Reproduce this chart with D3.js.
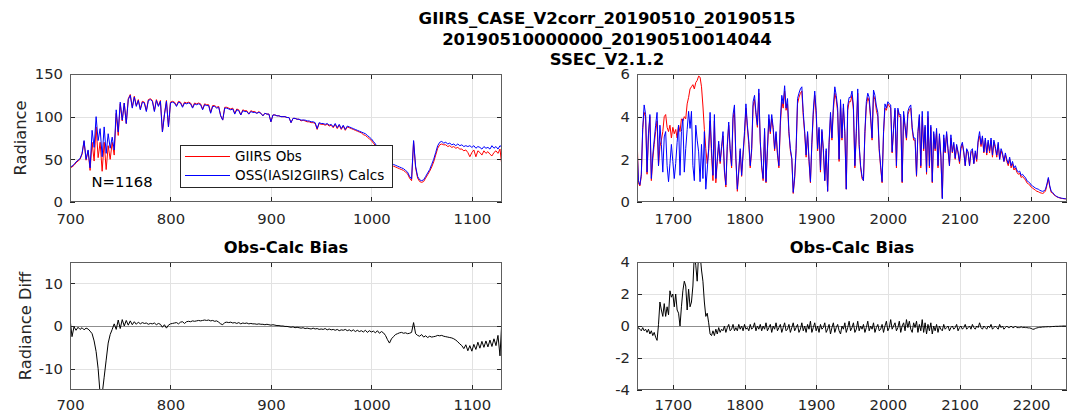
<!DOCTYPE html>
<html><head><meta charset="utf-8">
<script src="https://cdn.jsdelivr.net/npm/d3@7"></script>
<style>body{margin:0;background:#fff}svg{display:block}text{font-family:"DejaVu Sans",sans-serif}</style>
</head><body><svg id="c" width="1070" height="413"></svg>
<script>
// ---------- DATA ----------
const titleLines = ["GIIRS_CASE_V2corr_20190510_20190515", "20190510000000_20190510014044", "SSEC_V2.1.2"];
const legendLabels = ["GIIRS Obs", "OSS(IASI2GIIRS) Calcs"];
const nLabel = "N=1168";
const biasTitle = "Obs-Calc Bias";

// long-wave band: wavenumber grid start/step (cm-1)
const lwStart = 700, lwStep = 2;
const lwCalc = [
41,42,44,47,49,51,57,72,50,61,
40,84,64,100,72,86,53,88,57,80,
63,76,61,108,82,117,96,116,92,120,
125,110,123,112,119,108,117,116,106,119,
120,118,106,119,112,118,82,102,118,88,
116,117,116,112,117,116,111,116,115,116,
115,110,115,114,115,114,108,114,113,113,
104,112,112,110,111,101,96,110,110,109,
108,109,103,108,107,102,107,106,106,103,
106,105,105,104,105,104,101,104,103,103,
94,102,102,101,101,100,100,100,99,99,
93,98,98,97,97,96,96,96,95,95,
94,94,93,86,93,92,92,91,92,90,
91,88,92,87,91,86,90,85,89,88,
87,86,85,84,83,82,81,80,78,76,
74,71,68,64,60,56,52,49,47,46,
45,44,43,42,41,40,39,37,35,30,
27,72,42,30,26,25,26,30,34,38,
44,50,58,66,70,71,69,70,68,69,
67,68,66,68,66,67,65,66,65,66,
64,66,63,65,64,62,65,63,64,62,
66,63,65,62,66,64];
const lwObs = [
40,41,43,46,48,50,56,71,49,60,
37,70,48,88,52,70,36,70,38,66,
50,70,55,104,78,115,95,116,92,121,
126,111,124,113,120,109,118,117,107,120,
121,119,107,120,113,119,82,103,119,88,
117,118,117,113,118,117,112,117,116,117,
116,111,116,115,116,115,109,115,114,114,
105,113,113,111,112,101,96,111,111,110,
109,110,104,109,108,102,108,107,107,103,
107,106,106,104,106,104,101,104,103,103,
94,102,102,101,101,100,100,100,99,99,
93,98,98,97,97,95,96,95,94,94,
93,93,92,85,92,91,91,90,91,89,
90,87,91,86,90,85,89,84,88,87,
86,85,84,83,82,81,79,78,76,74,
72,69,66,62,58,54,50,47,44,42,
42,42,41,40,39,38,37,35,33,28,
25,71,40,28,24,23,24,28,32,36,
41,47,55,63,67,68,67,67,65,66,
64,65,63,64,62,62,60,61,58,53,
58,61,53,60,58,55,60,57,59,56,
54,58,60,57,62,41];
const lwBias = [
1.8,-2.5,-0.2,-1.0,-0.3,-0.8,-0.4,-0.9,-0.5,-0.7,
-1.2,-1.8,-3.5,-6,-10,-16,-16,-12,-8,-4,
-2,-0.8,0.5,-0.8,1.4,-0.6,1.5,0.0,1.3,0.2,
1.2,0.3,1.0,0.4,0.9,0.5,0.8,0.6,0.7,0.4,
0.6,0.5,0.7,0.3,0.6,0.4,-0.3,0.3,-0.5,0.2,
0.5,0.6,0.7,0.8,0.5,0.9,1.0,0.6,1.0,1.1,
1.0,1.2,1.1,1.2,1.3,1.2,1.3,1.4,1.3,1.4,
1.2,1.3,1.1,1.2,0.9,0.5,0.3,0.8,0.9,0.8,
0.9,0.7,0.8,0.6,0.8,0.5,0.7,0.6,0.7,0.5,
0.6,0.5,0.5,0.4,0.5,0.4,0.4,0.3,0.4,0.3,
0.2,0.3,0.2,0.1,0.1,0.0,0.0,-0.1,-0.1,-0.2,
-0.3,-0.2,-0.4,-0.3,-0.4,-0.5,-0.4,-0.6,-0.5,-0.6,
-0.7,-0.5,-0.7,-0.6,-0.8,-0.7,-0.8,-0.6,-0.9,-0.7,
-0.9,-0.8,-1.0,-0.8,-1.1,-0.9,-1.0,-0.8,-1.1,-0.9,
-1.2,-0.9,-1.3,-1.0,-1.3,-1.1,-1.4,-1.0,-1.5,-1.1,
-1.4,-1.2,-1.6,-1.1,-1.7,-1.3,-1.6,-2.2,-3.2,-4.0,
-3.0,-2.5,-2.0,-1.8,-1.6,-1.5,-1.7,-1.6,-1.8,-1.7,
-1.5,0.8,-1.8,-2.2,-2.4,-2.0,-2.6,-2.3,-2.7,-2.4,
-2.6,-2.5,-2.4,-2.2,-2.3,-2.2,-2.4,-2.5,-2.6,-2.7,
-2.8,-3.0,-3.3,-3.7,-4.2,-4.6,-5.3,-4.4,-5.8,-4.6,
-5.9,-4.3,-5.5,-3.8,-5.2,-3.6,-5.0,-3.5,-4.9,-3.3,
-4.8,-3.0,-4.6,-2.2,-7.0,2.0];

// mid-wave band
const mwStart = 1650, mwStep = 2;
const mwCalc = [
2.7,1.0,0.8,1.3,3.5,4.55,4.1,1.4,3.2,4.1,
1.1,2.2,2.9,3.6,4.2,1.7,3.6,2.7,1.4,3.05,
3.3,1.7,0.95,1.8,2.7,1.9,1.1,1.8,2.8,3.6,
1.25,3.3,3.9,1.4,2.5,3.4,4.25,3.45,4.25,1.7,
1.0,3.6,2.9,2.35,0.95,2.7,1.1,3.3,0.6,1.5,
2.5,4.2,2.5,1.25,4.1,1.1,2.0,2.85,1.9,2.6,
3.3,1.5,0.8,2.7,3.75,2.5,1.7,4.1,4.55,2.05,
0.6,1.5,2.5,1.25,2.3,3.3,4.6,3.6,2.85,1.7,
2.5,4.7,5.0,4.2,3.6,5.3,2.85,1.7,1.1,3.45,
0.95,2.5,4.1,3.3,4.1,3.5,2.5,3.3,2.3,1.7,
3.8,5.0,4.6,5.45,4.4,4.85,3.3,2.5,2.05,0.45,
1.2,2.5,4.85,5.1,5.3,5.4,4.2,3.3,2.2,3.3,
2.0,0.95,2.8,4.3,5.2,4.3,2.5,3.5,1.5,3.4,
2.5,1.0,2.5,0.5,2.8,4.2,3.0,4.5,5.4,5.0,
4.4,2.0,4.8,3.0,4.6,3.3,0.6,4.5,4.9,4.9,
5.2,4.5,1.7,3.3,5.3,2.7,1.7,1.2,1.0,3.3,
4.7,5.1,4.9,4.0,3.0,5.25,5.0,4.5,4.2,2.5,
1.7,0.95,3.3,4.6,4.4,4.7,4.6,4.55,2.35,3.45,
4.4,1.7,4.4,4.1,4.1,0.95,4.25,3.6,3.0,4.25,
4.45,4.55,3.5,3.0,3.0,1.25,3.3,4.1,1.7,4.25,
2.5,3.6,1.4,4.25,1.7,3.6,0.95,3.3,2.5,3.45,
1.7,3.2,2.2,0.15,3.15,2.35,3.3,2.5,1.7,3.15,
2.35,2.8,2.05,2.7,2.35,1.9,2.6,2.8,2.35,1.7,
2.5,2.35,1.7,2.4,2.5,1.8,2.4,2.0,2.9,3.3,
2.7,3.1,2.35,3.0,2.3,2.9,2.4,3.0,2.2,2.9,
2.6,2.2,2.8,2.0,2.5,2.3,1.9,2.3,2.0,1.8,
2.1,1.7,1.9,1.6,1.7,1.5,1.4,1.45,1.25,1.3,
1.2,1.15,1.0,0.95,0.9,0.8,0.75,0.7,0.65,0.62,
0.6,0.55,0.52,0.5,0.52,0.6,0.85,1.15,0.75,0.5,
0.45,0.35,0.3,0.25,0.22,0.2,0.18,0.17,0.16,0.15,
0.15];
const mwObs = [
3.2,0.9,0.75,1.2,3.4,4.2,4.0,1.3,3.1,4.0,
1.0,2.0,2.7,3.3,3.8,1.7,2.6,2.9,3.3,4.0,
4.1,3.5,3.3,3.6,3.0,3.5,3.2,3.4,3.0,3.6,
3.3,3.9,3.8,4.0,3.9,4.6,4.9,5.3,5.4,5.5,
5.3,5.6,5.7,5.9,5.85,5.4,4.5,3.4,2.5,1.8,
2.4,3.8,2.2,1.0,3.8,0.9,1.9,2.7,1.8,2.5,
3.1,1.4,0.7,2.6,3.6,2.4,1.6,3.9,4.3,2.0,
0.5,1.4,2.4,1.2,2.2,3.1,4.4,3.5,2.7,1.6,
2.4,4.5,4.8,4.1,3.5,5.1,2.8,1.6,1.0,3.3,
0.9,2.4,3.9,3.2,3.9,3.4,2.4,3.2,2.2,1.6,
3.6,4.7,4.4,5.2,4.3,4.6,3.2,2.4,2.0,0.4,
1.1,2.4,4.6,4.9,5.1,5.2,4.0,3.2,2.1,3.2,
1.9,0.9,2.7,4.1,5.0,4.1,2.4,3.4,1.4,3.3,
2.4,1.0,2.4,0.5,2.7,4.0,2.9,4.3,5.1,4.8,
4.2,1.9,4.6,2.9,4.4,3.2,0.6,4.3,4.7,4.7,
5.0,4.3,1.6,3.2,5.1,2.6,1.6,1.1,1.0,3.2,
4.5,4.9,4.7,3.9,2.9,5.0,4.8,4.3,4.0,2.4,
1.6,0.9,3.2,4.4,4.3,4.6,4.5,4.4,2.3,3.4,
4.3,1.6,4.3,4.0,4.0,0.9,4.1,3.5,2.9,4.1,
4.3,4.4,3.4,2.9,2.9,1.2,3.2,4.0,1.6,4.0,
2.4,3.5,1.3,4.0,1.6,3.5,0.9,3.2,2.4,3.3,
1.6,3.1,2.1,0.2,3.0,2.3,3.2,2.4,1.7,3.0,
2.3,2.7,2.0,2.6,2.3,1.8,2.5,2.7,2.3,1.7,
2.4,2.3,1.7,2.3,2.4,1.8,2.3,1.9,2.8,3.1,
2.6,3.0,2.3,2.9,2.2,2.8,2.3,2.9,2.1,2.8,
2.5,2.1,2.7,2.0,2.4,2.2,1.9,2.2,1.9,1.7,
2.0,1.6,1.8,1.5,1.6,1.4,1.3,1.35,1.15,1.2,
1.1,1.05,0.9,0.85,0.8,0.7,0.65,0.6,0.55,0.5,
0.48,0.44,0.42,0.4,0.44,0.52,0.78,1.1,0.7,0.45,
0.42,0.33,0.28,0.24,0.21,0.19,0.17,0.16,0.15,0.15,
0.14];
const mwBias = [
-0.3,-0.1,-0.2,-0.3,-0.1,-0.3,-0.2,-0.4,-0.2,-0.5,
-0.3,-0.6,-0.4,-0.7,-0.9,0.1,1.5,1.0,0.6,1.4,
0.6,1.2,0.7,2.2,1.8,2.0,1.2,2.0,1.0,0.8,
0.0,1.2,2.2,2.8,2.5,1.0,2.3,1.2,1.5,2.5,
4.5,3.8,2.8,4.5,4.5,3.5,2.8,1.5,0.6,0.8,
0.2,-0.5,-0.6,-0.3,-0.6,-0.2,-0.5,-0.1,-0.4,-0.2,
-0.3,0.0,-0.4,-0.1,0.1,-0.3,-0.2,0.1,-0.3,-0.1,
-0.3,0.1,-0.2,0.0,-0.3,0.1,-0.2,-0.1,-0.3,0.1,
-0.2,-0.1,0.2,-0.3,0.0,-0.2,0.1,-0.3,0.0,-0.2,
0.2,-0.3,-0.1,0.1,-0.4,0.0,-0.2,0.2,-0.3,-0.1,
0.1,-0.4,-0.1,0.2,-0.3,-0.2,0.1,-0.4,-0.1,0.2,
-0.3,-0.1,0.1,-0.4,-0.2,0.2,-0.3,0.0,-0.4,0.1,
-0.2,0.3,-0.4,-0.1,0.2,-0.3,0.0,-0.4,0.1,-0.2,
-0.1,0.2,-0.4,-0.2,0.1,-0.5,-0.1,0.2,-0.4,-0.1,
0.1,-0.3,-0.5,0.0,-0.2,0.2,-0.4,-0.1,0.3,-0.3,
-0.1,0.2,-0.4,-0.2,0.3,-0.3,0.0,-0.2,0.1,-0.4,
-0.1,0.3,-0.3,0.0,-0.2,0.2,-0.4,-0.1,0.1,-0.3,
-0.2,0.1,-0.4,0.0,0.3,-0.3,-0.1,0.4,-0.2,0.0,
0.2,-0.3,-0.1,0.3,-0.4,0.0,0.2,-0.3,0.4,-0.1,
0.3,-0.2,-0.4,0.2,-0.1,0.3,-0.4,0.1,-0.3,0.4,
-0.4,0.2,-0.5,0.1,-0.3,0.2,-0.5,0.0,-0.3,0.1,
-0.4,0.0,-0.2,-0.3,0.1,-0.2,-0.1,0.0,-0.3,-0.1,
0.0,-0.2,-0.1,0.1,-0.3,-0.1,0.0,-0.2,-0.1,0.1,
-0.2,-0.1,0.0,-0.2,0.1,-0.1,-0.2,0.0,-0.1,0.2,
-0.1,-0.2,0.0,-0.1,-0.2,0.0,-0.1,0.1,-0.2,-0.1,
0.0,-0.1,-0.2,0.1,-0.1,0.0,-0.2,-0.1,0.0,-0.1,
-0.1,0.0,-0.1,-0.1,0.0,-0.1,-0.1,-0.1,-0.05,-0.1,
-0.08,-0.1,-0.1,-0.12,-0.12,-0.15,-0.2,-0.2,-0.15,-0.12,
-0.1,-0.08,-0.08,-0.06,-0.06,-0.05,-0.05,-0.04,-0.05,-0.04,
-0.03,-0.03,-0.02,-0.02,-0.02,-0.01,-0.01,0.0,0.0,0.0,
0.0];

// axis limits and ticks
const lwDomain = [700, 1130], mwDomain = [1650, 2250];
const lwTicks = [700, 800, 900, 1000, 1100];
const mwTicks = [1700, 1800, 1900, 2000, 2100, 2200];
const radLwDomain = [0, 150], radLwTicks = [0, 50, 100, 150];
const radMwDomain = [0, 6], radMwTicks = [0, 2, 4, 6];
const biasLwDomain = [-15, 15], biasLwTicks = [-10, 0, 10];
const biasMwDomain = [-4, 4], biasMwTicks = [-4, -2, 0, 2, 4];

// ---------- DRAW ----------
const svg = d3.select("#c");
const TXT = "#262626", FS = 14.8;
const fmt = d => String(d);

const panels = [
  {key:"tl", left:70, top:74, w:432, h:128, pad:11, xd:lwDomain, yd:radLwDomain, xt:lwTicks, yt:radLwTicks,
   series:[{v:lwObs,c:"#ff0000",s:lwStart,st:lwStep},{v:lwCalc,c:"#0000ff",s:lwStart,st:lwStep}]},
  {key:"tr", left:637, top:74, w:430, h:128, pad:11, xd:mwDomain, yd:radMwDomain, xt:mwTicks, yt:radMwTicks,
   series:[{v:mwObs,c:"#ff0000",s:mwStart,st:mwStep},{v:mwCalc,c:"#0000ff",s:mwStart,st:mwStep}]},
  {key:"bl", left:70, top:262, w:432, h:128, pad:9.5, xd:lwDomain, yd:biasLwDomain, xt:lwTicks, yt:biasLwTicks, zero:true,
   series:[{v:lwBias,c:"#000000",s:lwStart,st:lwStep}]},
  {key:"br", left:637, top:262, w:430, h:128, pad:9.5, xd:mwDomain, yd:biasMwDomain, xt:mwTicks, yt:biasMwTicks, zero:true,
   series:[{v:mwBias,c:"#000000",s:mwStart,st:mwStep}]}
];

function styleAxis(sel, labels){
  sel.select(".domain").remove();
  sel.selectAll(".tick line").attr("stroke", TXT).attr("shape-rendering","crispEdges");
  sel.selectAll(".tick text").attr("fill", TXT).attr("font-size", FS).attr("font-family","DejaVu Sans");
  if(!labels) sel.selectAll(".tick text").remove();
}

panels.forEach(p => {
  const g = svg.append("g").attr("transform", `translate(${p.left},${p.top})`);
  const x = d3.scaleLinear().domain(p.xd).range([0, p.w]);
  const y = d3.scaleLinear().domain(p.yd).range([p.h, 0]);
  g.append("rect").attr("width", p.w).attr("height", p.h).attr("fill", "#fff");
  // grid
  g.append("g").selectAll("line").data(p.xt).join("line")
    .attr("x1", d => Math.round(x(d)) + 0.5).attr("x2", d => Math.round(x(d)) + 0.5)
    .attr("y1", 0).attr("y2", p.h).attr("stroke", "#e2e2e2");
  g.append("g").selectAll("line").data(p.yt.filter(d => d !== p.yd[0] && d !== p.yd[1])).join("line")
    .attr("y1", d => Math.round(y(d)) + 0.5).attr("y2", d => Math.round(y(d)) + 0.5)
    .attr("x1", 0).attr("x2", p.w).attr("stroke", "#e2e2e2");
  const clipId = "clip-" + p.key;
  g.append("clipPath").attr("id", clipId).append("rect").attr("width", p.w).attr("height", p.h);
  const dg = g.append("g").attr("clip-path", `url(#${clipId})`);
  if (p.zero) {
    dg.append("line").attr("x1", 0).attr("x2", p.w)
      .attr("y1", Math.round(y(0)) + 0.5).attr("y2", Math.round(y(0)) + 0.5)
      .attr("stroke", "#8f8f8f").attr("stroke-width", 1);
  }
  p.series.forEach(s => {
    const line = d3.line().x((d, i) => x(s.s + i * s.st)).y(d => y(d));
    dg.append("path").datum(s.v).attr("d", line)
      .attr("fill", "none").attr("stroke", s.c).attr("stroke-width", 1).attr("stroke-linejoin","round");
  });
  // axes (ticks inside, mirrored)
  g.append("g").attr("transform", `translate(0,${p.h})`)
    .call(d3.axisBottom(x).tickValues(p.xt).tickFormat(fmt).tickSizeInner(-5).tickSizeOuter(0).tickPadding(p.pad))
    .call(s => styleAxis(s, true));
  g.append("g")
    .call(d3.axisTop(x).tickValues(p.xt).tickSizeInner(-5).tickSizeOuter(0))
    .call(s => styleAxis(s, false));
  g.append("g")
    .call(d3.axisLeft(y).tickValues(p.yt).tickFormat(fmt).tickSizeInner(-5).tickSizeOuter(0).tickPadding(7))
    .call(s => styleAxis(s, true));
  g.append("g").attr("transform", `translate(${p.w},0)`)
    .call(d3.axisRight(y).tickValues(p.yt).tickSizeInner(-5).tickSizeOuter(0))
    .call(s => styleAxis(s, false));
  // box
  g.append("rect").attr("x", 0.5).attr("y", 0.5).attr("width", p.w - 1).attr("height", p.h - 1)
    .attr("fill", "none").attr("stroke", "#5e5e5e").attr("shape-rendering","crispEdges");
});

// titles
svg.append("g").selectAll("text").data(titleLines).join("text")
  .attr("x", 607).attr("y", (d, i) => [23.5, 44.5, 64.5][i])
  .attr("text-anchor", "middle").attr("font-weight", "bold").attr("font-size", 16.5).attr("fill", "#000")
  .text(d => d);
[panels[2], panels[3]].forEach(p => {
  svg.append("text").attr("x", p.left + p.w / 2).attr("y", 253)
    .attr("text-anchor", "middle").attr("font-weight", "bold").attr("font-size", 16.3).attr("fill", "#000")
    .text(biasTitle);
});

// y labels
svg.append("text").attr("transform", "translate(26,138) rotate(-90)")
  .attr("text-anchor", "middle").attr("font-size", 16.3).attr("fill", TXT).text("Radiance");
svg.append("text").attr("transform", "translate(31,326) rotate(-90)")
  .attr("text-anchor", "middle").attr("font-size", 16.3).attr("fill", TXT).text("Radiance Diff");

// N label
svg.append("text").attr("x", 91.5).attr("y", 187).attr("font-size", FS).attr("fill", "#000").text(nLabel);

// legend
const lg = svg.append("g");
lg.append("rect").attr("x", 180.5).attr("y", 145.5).attr("width", 212).attr("height", 42)
  .attr("fill", "#fff").attr("stroke", "#262626").attr("shape-rendering","crispEdges");
const legColors = ["#ff0000", "#0000ff"];
legendLabels.forEach((t, i) => {
  const yy = [156.5, 175.5][i];
  lg.append("line").attr("x1", 185).attr("x2", 230).attr("y1", yy).attr("y2", yy)
    .attr("stroke", legColors[i]).attr("stroke-width", 1);
  lg.append("text").attr("x", 235).attr("y", yy + 4.8).attr("font-size", 13.5).attr("fill", "#000").text(t);
});
</script></body></html>
